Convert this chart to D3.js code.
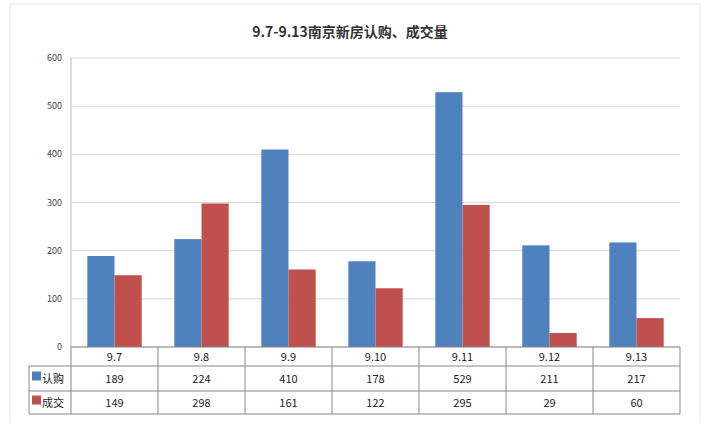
<!DOCTYPE html>
<html><head><meta charset="utf-8">
<script src="https://cdn.jsdelivr.net/npm/d3@7"></script>
<style>body{margin:0;background:#fff;font-family:"Noto Sans CJK SC","Liberation Sans",sans-serif}</style>
</head><body>
<svg id="c" width="706" height="423"></svg>
<script>
const categories = ['9.7', '9.8', '9.9', '9.10', '9.11', '9.12', '9.13'];
const subscribe = [189, 224, 410, 178, 529, 211, 217];
const deals = [149, 298, 161, 122, 295, 29, 60];
const yTicks = [0, 100, 200, 300, 400, 500, 600];
const seriesNames = ['认购', '成交'];
const colors = ['#4f81bd', '#c0504d'];

const svg = d3.select('#c');
const plotLeft = 71, plotRight = 680, plotTop = 58, plotBottom = 347;

svg.append('rect').attr('x', 10).attr('y', 4).attr('width', 690).attr('height', 430)
  .attr('fill', 'none').attr('stroke', '#e4e4e4');

svg.append('text').attr('x', 350).attr('y', 37).attr('text-anchor', 'middle')
  .attr('font-size', 14).attr('font-weight', 'bold').attr('fill', '#333')
  .text('9.7-9.13南京新房认购、成交量');

const x = d3.scaleBand().domain(categories).range([plotLeft, plotRight]);
const y = d3.scaleLinear().domain([0, 600]).range([plotBottom, plotTop]);
const inner = d3.scaleBand().domain([0, 1]).range([0, x.bandwidth()]).paddingOuter(0.6).paddingInner(0);

svg.append('g').selectAll('line').data(yTicks).join('line')
  .attr('x1', plotLeft).attr('x2', plotRight).attr('y1', d => y(d)).attr('y2', d => y(d))
  .attr('stroke', '#d9d9d9');
svg.append('g').selectAll('text').data(yTicks).join('text')
  .attr('x', 62).attr('y', d => y(d) + 3).attr('text-anchor', 'end')
  .attr('font-size', 9).attr('fill', '#444').text(d => d);
svg.append('line').attr('x1', plotLeft).attr('x2', plotLeft).attr('y1', plotTop).attr('y2', plotBottom).attr('stroke', '#bbb');

[subscribe, deals].forEach((vals, s) => {
  svg.append('g').selectAll('rect').data(vals).join('rect')
    .attr('x', (d, i) => x(categories[i]) + inner(s))
    .attr('width', inner.bandwidth())
    .attr('y', d => y(d)).attr('height', d => plotBottom - y(d))
    .attr('fill', colors[s]);
});

// data table
const rows = [plotBottom, 366, 391, 414];
const tbl = svg.append('g').attr('stroke', '#888').attr('fill', 'none');
tbl.append('line').attr('x1', plotLeft).attr('x2', plotRight).attr('y1', rows[0]).attr('y2', rows[0]);
[1, 2, 3].forEach(r => tbl.append('line').attr('x1', 29).attr('x2', plotRight).attr('y1', rows[r]).attr('y2', rows[r]));
tbl.append('line').attr('x1', 29).attr('x2', 29).attr('y1', rows[1]).attr('y2', rows[3]);
categories.concat(['end']).forEach((c, i) => {
  const xx = i < categories.length ? x(c) : plotRight;
  tbl.append('line').attr('x1', xx).attr('x2', xx).attr('y1', rows[0]).attr('y2', rows[3]);
});
svg.append('g').selectAll('text').data(categories).join('text')
  .attr('x', d => x(d) + x.bandwidth() / 2).attr('y', 361).attr('text-anchor', 'middle')
  .attr('font-size', 11).attr('fill', '#222').text(d => d);
[subscribe, deals].forEach((vals, s) => {
  const cy = (rows[s + 1] + rows[s + 2]) / 2 + 4;
  svg.append('rect').attr('x', 32).attr('y', cy - 11).attr('width', 9).attr('height', 9).attr('fill', colors[s]);
  svg.append('text').attr('x', 42).attr('y', cy).attr('font-size', 11).attr('fill', '#222').text(seriesNames[s]);
  svg.append('g').selectAll('text').data(vals).join('text')
    .attr('x', (d, i) => x(categories[i]) + x.bandwidth() / 2).attr('y', cy)
    .attr('text-anchor', 'middle').attr('font-size', 11).attr('fill', '#222').text(d => d);
});
</script>
</body></html>
